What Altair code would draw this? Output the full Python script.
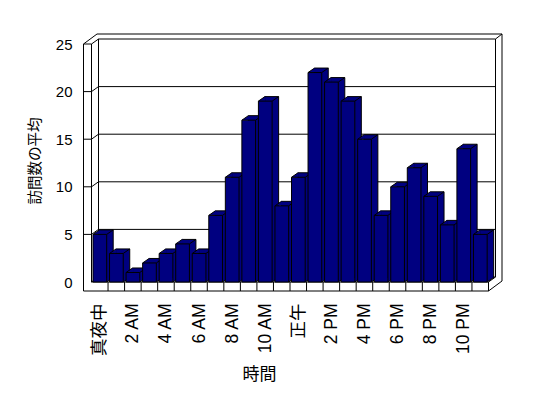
import json
import altair as alt
import pandas as pd

# ---- data ----
hour_labels = ["真夜中", "1 AM", "2 AM", "3 AM", "4 AM", "5 AM", "6 AM", "7 AM",
               "8 AM", "9 AM", "10 AM", "11 AM", "正午", "1 PM", "2 PM", "3 PM",
               "4 PM", "5 PM", "6 PM", "7 PM", "8 PM", "9 PM", "10 PM", "11 PM"]
avg_visits = [5, 3, 1, 2, 3, 4, 3, 7, 11, 17, 19, 8,
              11, 22, 21, 19, 15, 7, 10, 12, 9, 6, 14, 5]
y_ticks = [0, 5, 10, 15, 20, 25]

# ---- geometry / style ----
W, H = 397, 238
N = len(hour_labels)
YMAX = 25
kx = W / N
ky = H / YMAX
NAVY = "#000080"
FONT = "Liberation Sans, Arial, Noto Sans CJK JP"
CJK = "Noto Sans CJK JP"

PD = (7.0, 5.0)     # depth of the plot box (px right, px up)
WT = (6.5, 5.0)     # back-wall thickness
BD = (6.5, 4.5)     # bar depth
LW = 8.0            # left wall thickness
FT = 9.0            # floor thickness
BAR_GAP = 1.5
BAR_W = 13.7


def px(v):
    return v / kx


def py(v):
    return v / ky


xs = alt.Scale(domain=[0, N], nice=False, zero=False)
ys = alt.Scale(domain=[0, YMAX], nice=False, zero=False)

label_expr = json.dumps(hour_labels, ensure_ascii=False) + "[floor(datum.value)]"
x_axis = alt.Axis(
    values=[i + 0.5 for i in range(0, N, 2)], labelExpr=label_expr,
    title="時間", domain=False, ticks=False, grid=False,
    labelAngle=270, labelAlign="right", labelBaseline="middle",
    labelPadding=21, labelFont=FONT, labelFontSize=17.5, labelColor="black",
    labelFlush=False, labelOverlap=False,
    titleFont=CJK, titleFontSize=17, titleFontWeight="normal", titleColor="black",
    titleX=167.5, titleY=92, titleAlign="center", titleBaseline="middle",
)
y_axis = alt.Axis(
    values=y_ticks, title="訪問数の平均", domain=False, ticks=False, grid=False,
    labelPadding=19.5, labelFont=FONT, labelFontSize=15, labelColor="black",
    labelFlush=False, labelOverlap=False,
    titleFont=CJK, titleFontSize=14.5, titleFontWeight="normal", titleColor="black",
    titleAngle=270, titleX=-55.7, titleY=116.5, titleAlign="center",
    titleBaseline="middle",
)


def X(field):
    return alt.X(field, type="quantitative", scale=xs, axis=x_axis)


def Y(field):
    return alt.Y(field, type="quantitative", scale=ys, axis=y_axis)


# ---- frame segments (walls & floor) ----
a, b = px(PD[0]), py(PD[1])
c, d = px(WT[0]), py(WT[1])
wl, fl = px(LW), py(FT)
X0, X1, Y0, Y1 = 0, N, 0, YMAX
segs = []


def seg(x, y, x2, y2):
    segs.append(dict(x=x, y=y, x2=x2, y2=y2))


for v in y_ticks:
    seg(X0 + a, v + b, X1 + a, v + b)      # back wall gridline
    seg(X0, v, X0 + a, v + b)              # left wall inner gridline
    if v > 0:
        seg(X0 - wl, v, X0, v)             # left wall front tick / top
seg(X0 - wl, Y1, X0 - wl, Y0 - fl)
seg(X0, Y1, X0, Y0)
seg(X0 + a, Y1 + b, X0 + a, Y0 + b)
seg(X0 - wl, Y1, X0 - wl + a + c, Y1 + b + d)
seg(X0 - wl + a + c, Y1 + b + d, X1 + a + c, Y1 + b + d)
seg(X1 + a, Y1 + b, X1 + a + c, Y1 + b + d)
seg(X1 + a, Y1 + b, X1 + a, Y0 + b)
seg(X1 + a + c, Y1 + b + d, X1 + a + c, Y0 - fl + b + d)
seg(X1, Y0 - fl, X1 + a + c, Y0 - fl + b + d)
seg(X1, Y0, X1 + a, Y0 + b)
seg(X0, Y0, X1, Y0)
seg(X0 - wl, Y0 - fl, X1, Y0 - fl)
for i in range(1, N + 1):
    seg(i, Y0, i, Y0 - fl)
frame_df = pd.DataFrame(segs)

frame = alt.Chart(frame_df).mark_rule(color="black", strokeWidth=1).encode(
    x=X("x"), x2="x2", y=Y("y"), y2="y2",
)

# ---- bars ----
bars = pd.DataFrame({"hour": hour_labels, "idx": list(range(N)), "value": avg_visits})
bars["x"] = bars["idx"] + px(BAR_GAP)
bars["x2"] = bars["x"] + px(BAR_W)
bars["bx"] = bars["x"] + px(BD[0])
bars["bx2"] = bars["x2"] + px(BD[0])
bars["by"] = bars["value"] + py(BD[1])
bars["by2"] = py(BD[1])
bars["zero"] = 0.0

back = alt.Chart(bars).mark_rect(fill=NAVY, stroke="black", strokeWidth=1).encode(
    x=X("bx"), x2="bx2", y=Y("by"), y2="by2",
)

hx, hy = BD[0] / 2, BD[1] / 2
tl_shape = f"M {-hx} {hy} L {hx} {-hy} L {hx + 0.7} {-hy + 0.5} L {hx + 0.7} {hy} Z"
br_shape = f"M {-hx} {hy} L {hx} {-hy} L {hx} {-hy - 0.5} L {-hx - 0.5} {-hy - 0.5} L {-hx - 0.5} {hy} Z"
diag_shape = f"M {-hx} {hy} L {hx} {-hy}"

tl_fill = alt.Chart(bars).mark_point(
    shape=tl_shape, size=4, filled=True, fill=NAVY, strokeWidth=0, opacity=1,
    xOffset=hx, yOffset=-hy,
).encode(x=X("x"), y=Y("value"))

br_fill = alt.Chart(bars).mark_point(
    shape=br_shape, size=4, filled=True, fill=NAVY, strokeWidth=0, opacity=1,
    xOffset=hx, yOffset=-hy,
).encode(x=X("x2"), y=Y("zero"))

diag_style = dict(shape=diag_shape, size=4, filled=False, color="black",
                  strokeWidth=1, opacity=1, xOffset=hx, yOffset=-hy)
diag_tl = alt.Chart(bars).mark_point(**diag_style).encode(x=X("x"), y=Y("value"))
diag_tr = alt.Chart(bars).mark_point(**diag_style).encode(x=X("x2"), y=Y("value"))
diag_br = alt.Chart(bars).mark_point(**diag_style).encode(x=X("x2"), y=Y("zero"))

front = alt.Chart(bars).mark_rect(fill=NAVY, stroke="black", strokeWidth=1).encode(
    x=X("x"), x2="x2", y=Y("value"), y2="zero",
)

chart = alt.layer(frame, back, tl_fill, br_fill, diag_tl, diag_tr, diag_br, front).properties(
    width=W, height=H,
    autosize=alt.AutoSizeParams(type="none"),
    padding={"left": 83.5, "top": 36, "right": 30, "bottom": 110},
).configure_view(stroke=None)

chart.save("out.html", embed_options={"renderer": "svg", "actions": False})
